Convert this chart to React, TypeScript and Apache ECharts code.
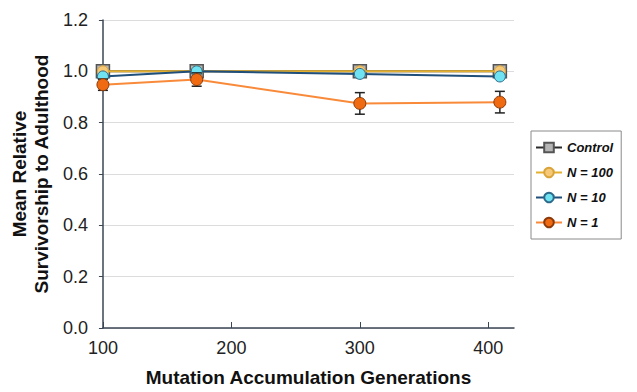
import React, { useEffect, useRef } from "react";
import * as echarts from "echarts";

// Generation at which each line was assayed
const generations = [100, 173, 300, 409];

// Mean relative survivorship per treatment
const controlValues = [1.0, 1.0, 1.0, 1.0];
const n100Values = [1.0, 1.0, 1.0, 1.0];
const n10Values = [0.98, 1.0, 0.99, 0.98];
const n1Values = [0.948, 0.968, 0.875, 0.88];

// Standard errors (N = 1 carries the visible bars)
const n1Errors = [0.022, 0.026, 0.042, 0.042];

const xTicks = [100, 200, 300, 400];

const seriesNames = ["Control", "N = 100", "N = 10", "N = 1"];

function pairs(values: number[]) {
  return generations.map((g, i) => [g, values[i]]);
}

export default function App() {
  const ref = useRef<HTMLDivElement>(null);

  useEffect(() => {
    if (!ref.current) return;
    const chart = echarts.init(ref.current, null, { renderer: "svg" });

    const errorData = generations.map((g, i) => [g, n1Values[i] - n1Errors[i], n1Values[i] + n1Errors[i]]);

    const font = "Liberation Sans, Arial, sans-serif";

    chart.setOption({
      animation: false,
      backgroundColor: "#ffffff",
      grid: { left: 102, top: 20, width: 412, height: 312, containLabel: false },
      legend: {
        orient: "vertical",
        left: 531,
        top: 131,
        data: seriesNames,
        itemWidth: 26,
        itemHeight: 12,
        itemGap: 12,
        padding: [10, 8, 10, 4],
        borderColor: "#8a8a8a",
        borderWidth: 1,
        textStyle: {
          fontFamily: font,
          fontStyle: "italic",
          fontWeight: "bold",
          fontSize: 13,
          color: "#111",
        },
      },
      xAxis: {
        type: "value",
        min: 100,
        max: 420,
        interval: 100,
        name: "Mutation Accumulation Generations",
        nameLocation: "middle",
        nameGap: 40,
        nameTextStyle: { fontFamily: font, fontWeight: "bold", fontSize: 19, color: "#111" },
        axisLine: { show: true, lineStyle: { color: "#3a4654", width: 1.5 } },
        axisTick: { show: true, inside: true, length: 6, customValues: xTicks, lineStyle: { color: "#3a4654" } },
        axisLabel: { customValues: xTicks, fontFamily: font, fontSize: 18, color: "#222", margin: 11 },
        splitLine: { show: false },
      },
      yAxis: {
        type: "value",
        min: 0,
        max: 1.2,
        interval: 0.2,
        name: "Mean Relative\nSurvivorship to Adulthood",
        nameLocation: "middle",
        nameRotate: 90,
        nameGap: 50,
        nameTextStyle: { fontFamily: font, fontWeight: "bold", fontSize: 19, color: "#111", lineHeight: 22 },
        axisLine: { show: true, lineStyle: { color: "#3a4654", width: 1.5 } },
        axisTick: { show: true, length: 4, lineStyle: { color: "#3a4654" } },
        axisLabel: {
          fontFamily: font,
          fontSize: 18,
          color: "#222",
          margin: 15,
          formatter: (v: number) => v.toFixed(1),
        },
        splitLine: { show: true, lineStyle: { color: "#dcdcdc", width: 1 } },
      },
      series: [
        {
          name: "Control",
          type: "line",
          data: pairs(controlValues),
          symbol: "rect",
          symbolSize: 13,
          lineStyle: { color: "#2b2b2b", width: 2 },
          itemStyle: { color: "#b5b5b5", borderColor: "#555", borderWidth: 1.5 },
          z: 2,
        },
        {
          name: "N = 100",
          type: "line",
          data: pairs(n100Values),
          symbol: "circle",
          symbolSize: 11,
          lineStyle: { color: "#e3b030", width: 2 },
          itemStyle: { color: "#f5c978", borderColor: "#d9a33a", borderWidth: 1 },
          z: 3,
        },
        {
          name: "N = 10",
          type: "line",
          data: pairs(n10Values),
          symbol: "circle",
          symbolSize: 11,
          lineStyle: { color: "#1f4f7a", width: 2 },
          itemStyle: { color: "#6fe3f2", borderColor: "#2d6a8a", borderWidth: 1 },
          z: 4,
        },
        {
          name: "N = 1 bars",
          type: "custom",
          data: errorData,
          z: 5,
          renderItem: (params: any, api: any) => {
            const x = api.value(0);
            const lo = api.coord([x, api.value(1)]);
            const hi = api.coord([x, api.value(2)]);
            const cap = 5;
            const style = { stroke: "#222", lineWidth: 1.5 };
            return {
              type: "group",
              children: [
                { type: "line", shape: { x1: lo[0], y1: lo[1], x2: hi[0], y2: hi[1] }, style },
                { type: "line", shape: { x1: lo[0] - cap, y1: lo[1], x2: lo[0] + cap, y2: lo[1] }, style },
                { type: "line", shape: { x1: hi[0] - cap, y1: hi[1], x2: hi[0] + cap, y2: hi[1] }, style },
              ],
            };
          },
        },
        {
          name: "N = 1",
          type: "line",
          data: pairs(n1Values),
          symbol: "circle",
          symbolSize: 12,
          lineStyle: { color: "#f88a3a", width: 2 },
          itemStyle: { color: "#f06a12", borderColor: "#8a3a0a", borderWidth: 1 },
          z: 6,
        },
      ],
    });

    return () => chart.dispose();
  }, []);

  return (
    <div
      ref={ref}
      style={{ position: "fixed", left: 0, top: 0, width: 637, height: 392 }}
    />
  );
}
